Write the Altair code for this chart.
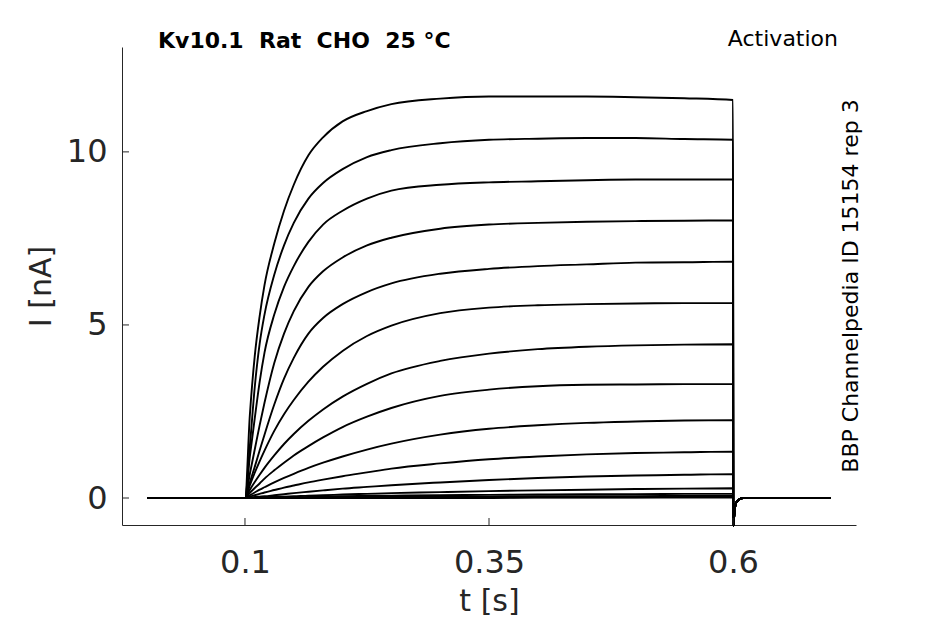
import altair as alt
import pandas as pd

# ---- data ----
T_PRE = [0.0]
I_PRE = [0.0]

T_PULSE = [0.1, 0.105, 0.11, 0.115, 0.12, 0.13, 0.14, 0.15, 0.165, 0.18,
           0.2, 0.225, 0.25, 0.3, 0.35, 0.4, 0.45, 0.5, 0.55, 0.6]

TRACE_01 = [0, 2.4, 4.1, 5.25, 6.15, 7.35, 8.3, 9.05, 9.9, 10.42, 10.88, 11.18, 11.38, 11.54, 11.6, 11.6, 11.6, 11.58, 11.55, 11.5]
TRACE_02 = [0, 1.5, 3.2, 4.45, 5.3, 6.45, 7.3, 7.95, 8.65, 9.1, 9.5, 9.85, 10.05, 10.25, 10.35, 10.38, 10.4, 10.4, 10.37, 10.35]
TRACE_03 = [0, 1.2, 2.3, 3.35, 4.2, 5.3, 6.1, 6.7, 7.4, 7.9, 8.3, 8.65, 8.88, 9.05, 9.12, 9.15, 9.18, 9.2, 9.2, 9.2]
TRACE_04 = [0, 0.7, 1.4, 2.1, 2.75, 3.9, 4.75, 5.4, 6.1, 6.55, 6.95, 7.3, 7.52, 7.78, 7.9, 7.95, 7.98, 8.0, 8.01, 8.02]
TRACE_05 = [0, 0.45, 0.9, 1.37, 1.83, 2.7, 3.45, 4.05, 4.75, 5.2, 5.6, 5.95, 6.2, 6.48, 6.62, 6.7, 6.75, 6.8, 6.81, 6.83]
TRACE_06 = [0, 0.37, 0.73, 1.06, 1.37, 1.94, 2.42, 2.83, 3.36, 3.79, 4.25, 4.68, 4.98, 5.34, 5.5, 5.57, 5.6, 5.62, 5.63, 5.63]
TRACE_07 = [0, 0.24, 0.46, 0.67, 0.87, 1.23, 1.56, 1.85, 2.23, 2.56, 2.93, 3.3, 3.6, 3.96, 4.17, 4.3, 4.37, 4.41, 4.43, 4.44]
TRACE_08 = [0, 0.15, 0.29, 0.42, 0.56, 0.8, 1.02, 1.23, 1.5, 1.75, 2.05, 2.35, 2.6, 2.95, 3.13, 3.23, 3.27, 3.28, 3.29, 3.29]
TRACE_09 = [0, 0.08, 0.16, 0.24, 0.31, 0.45, 0.58, 0.7, 0.87, 1.02, 1.2, 1.4, 1.57, 1.83, 2.0, 2.1, 2.17, 2.21, 2.24, 2.25]
TRACE_10 = [0, 0.04, 0.08, 0.12, 0.16, 0.23, 0.3, 0.36, 0.45, 0.53, 0.63, 0.74, 0.85, 1.0, 1.12, 1.2, 1.26, 1.3, 1.32, 1.34]
TRACE_11 = [0, 0.01, 0.03, 0.04, 0.05, 0.08, 0.11, 0.14, 0.18, 0.22, 0.27, 0.32, 0.37, 0.45, 0.52, 0.58, 0.62, 0.65, 0.67, 0.69]
TRACE_12 = [0, 0.0, 0.01, 0.01, 0.02, 0.03, 0.04, 0.05, 0.07, 0.08, 0.1, 0.12, 0.14, 0.17, 0.2, 0.22, 0.24, 0.26, 0.27, 0.28]
TRACE_13 = [0, 0, 0, 0.01, 0.01, 0.01, 0.02, 0.02, 0.03, 0.04, 0.05, 0.06, 0.07, 0.08, 0.09, 0.1, 0.11, 0.11, 0.12, 0.12]
TRACE_14 = [0, 0, 0, 0, 0, 0.01, 0.01, 0.01, 0.01, 0.02, 0.02, 0.03, 0.03, 0.04, 0.04, 0.05, 0.05, 0.05, 0.06, 0.06]
TRACE_15 = [0, 0, 0, 0, 0, 0, 0, 0, 0.01, 0.01, 0.01, 0.01, 0.01, 0.02, 0.02, 0.02, 0.02, 0.02, 0.03, 0.03]
TRACE_16 = [0, 0, 0, 0, 0, 0, 0, 0, 0, 0, 0, 0, 0, 0, 0, 0.01, 0.01, 0.01, 0.01, 0.01]

TRACES = [TRACE_01, TRACE_02, TRACE_03, TRACE_04, TRACE_05, TRACE_06, TRACE_07, TRACE_08,
          TRACE_09, TRACE_10, TRACE_11, TRACE_12, TRACE_13, TRACE_14, TRACE_15, TRACE_16]

T_TAIL = [0.6003, 0.6015, 0.603, 0.606, 0.61, 0.7]
I_TAIL = [-0.8, -0.4, -0.15, -0.05, 0.0, 0.0]

X_TICKS = [0.1, 0.35, 0.6]
Y_TICKS = [0, 5, 10]

NB = "\u00a0"
TITLE = f"Kv10.1{NB} Rat{NB} CHO{NB} 25 \u00b0C"
PROTOCOL = "Activation"
SOURCE = "BBP Channelpedia ID 15154 rep 3"

# ---- build table ----
rows = []
for k, tr in enumerate(TRACES):
    for t, v in zip(T_PRE, I_PRE):
        rows.append({"sweep": k, "t": t, "i": v})
    for t, v in zip(T_PULSE, tr):
        rows.append({"sweep": k, "t": t, "i": v})
    for t, v in zip(T_TAIL, I_TAIL):
        rows.append({"sweep": k, "t": t, "i": v})
df = pd.DataFrame(rows)

FONT = "DejaVu Sans"
AX = "#262626"
W, H = 734, 478

xs = alt.Scale(domain=[-0.026, 0.726], nice=False, zero=False)
ys = alt.Scale(domain=[-0.78, 13.03], nice=False, zero=False)

common = dict(labelFlush=False, grid=False, domain=True, domainColor=AX, domainWidth=1,
              ticks=False, tickSize=0, labelFont=FONT, labelFontSize=32, labelColor=AX,
              titleFont=FONT, titleFontSize=30, titleColor=AX, titleFontWeight="normal")
x_axis = alt.Axis(values=X_TICKS, format=".2~f", labelPadding=22, titlePadding=8, **common)
y_axis = alt.Axis(values=Y_TICKS, format="d", labelPadding=15, titlePadding=10, **common)

lines = alt.Chart(df).mark_line(color="black", strokeWidth=1.9, interpolate="monotone", clip=False).encode(
    x=alt.X("t:Q", scale=xs, axis=x_axis, title="t [s]"),
    y=alt.Y("i:Q", scale=ys, axis=y_axis, title="I [nA]"),
    detail="sweep:N",
)

xtick = alt.Chart(pd.DataFrame({"t": X_TICKS})).mark_rule(color=AX, strokeWidth=1).encode(
    x=alt.X("t:Q", scale=xs, axis=x_axis, title="t [s]"),
    y=alt.value(H), y2=alt.value(H - 7),
)
ytick = alt.Chart(pd.DataFrame({"i": Y_TICKS})).mark_rule(color=AX, strokeWidth=1).encode(
    y=alt.Y("i:Q", scale=ys, axis=y_axis, title="I [nA]"),
    x=alt.value(0), x2=alt.value(7),
)

title_txt = alt.Chart(pd.DataFrame({"s": [TITLE]})).mark_text(
    font=FONT, fontSize=22, fontWeight="bold", color="black", align="left", baseline="alphabetic"
).encode(text="s:N", x=alt.value(36), y=alt.value(1))

prot_txt = alt.Chart(pd.DataFrame({"s": [PROTOCOL]})).mark_text(
    font=FONT, fontSize=22, color="black", align="right", baseline="alphabetic"
).encode(text="s:N", x=alt.value(716), y=alt.value(-1))

src_txt = alt.Chart(pd.DataFrame({"s": [SOURCE]})).mark_text(
    font=FONT, fontSize=22, color="black", align="center", baseline="middle", angle=270
).encode(text="s:N", x=alt.value(729), y=alt.value(239))

chart = alt.layer(lines, xtick, ytick, title_txt, prot_txt, src_txt).properties(
    width=W, height=H,
    background="white",
    autosize=alt.AutoSizeParams(type="none"),
    padding={"left": 114, "top": 39, "right": 70, "bottom": 91},
).configure_view(stroke=None)

chart.save("out.html", embed_options={"renderer": "svg", "actions": False})
